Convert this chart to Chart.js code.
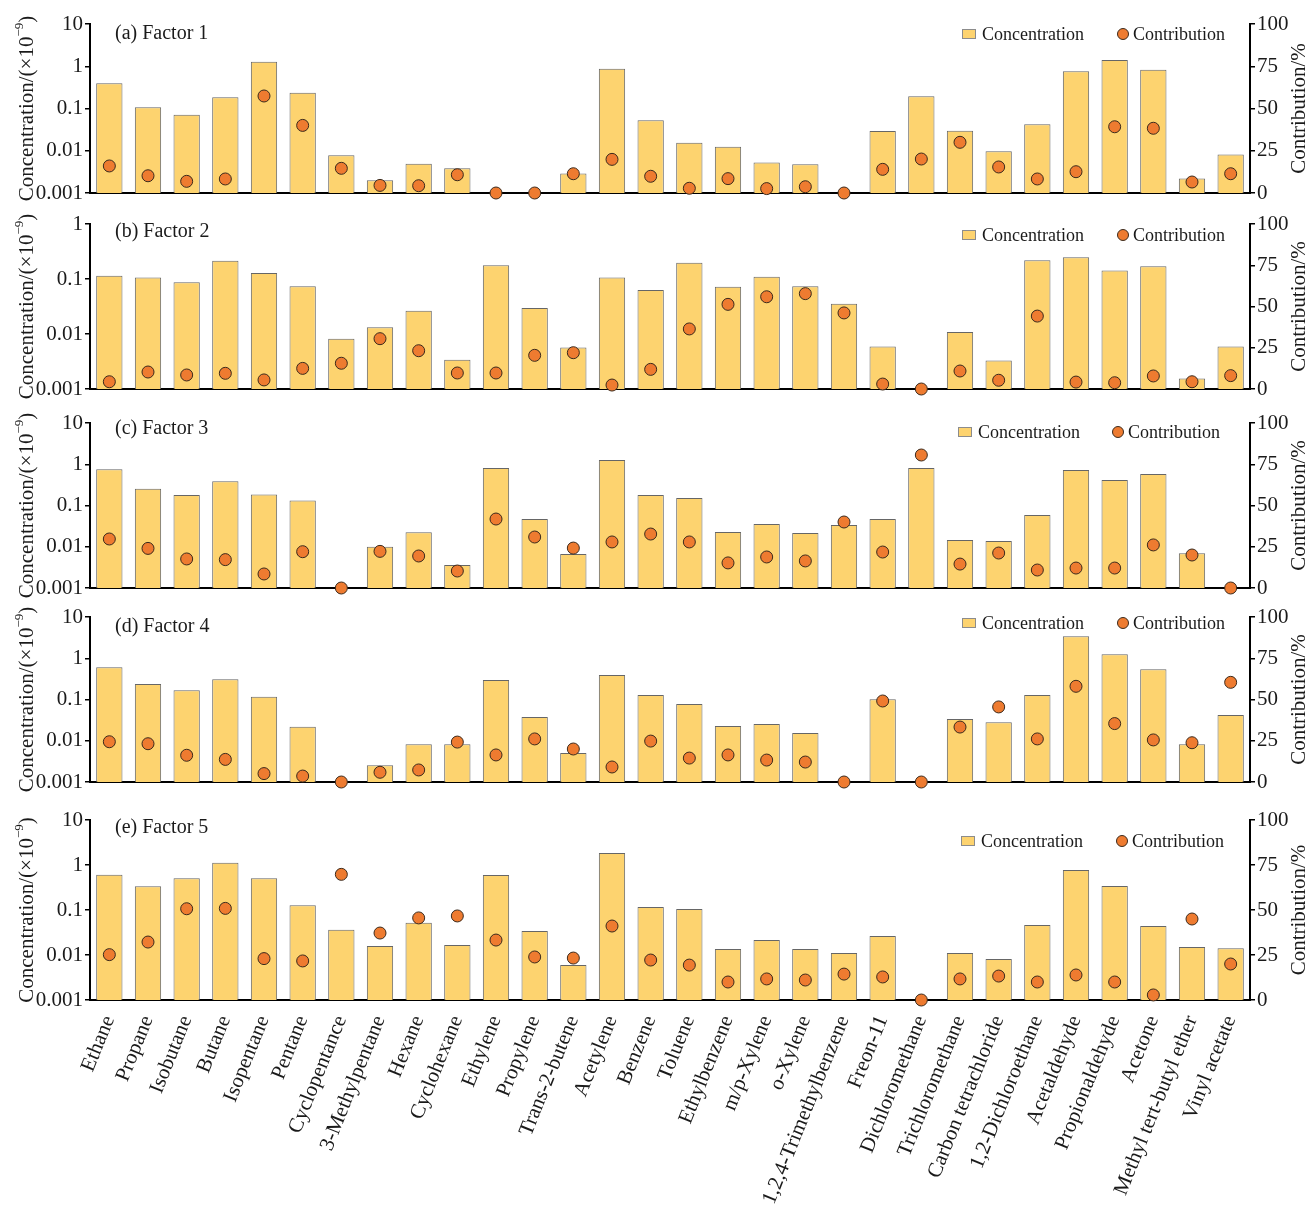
<!DOCTYPE html>
<html>
<head>
<meta charset="utf-8">
<script src="https://cdn.jsdelivr.net/npm/chart.js@4.4.1/dist/chart.umd.min.js"></script>
<style>
  html, body { margin: 0; padding: 0; background: #fff; }
  #wrap { position: relative; width: 1308px; height: 1215px; overflow: hidden; background: #fff; }
  .panel { position: absolute; left: 0; width: 1308px; }
  canvas { display: block; }
</style>
</head>
<body>
<div id="wrap"></div>
<script>
// VOC species on the shared category axis
const species = ['Ethane', 'Propane', 'Isobutane', 'Butane', 'Isopentane', 'Pentane', 'Cyclopentance',
  '3-Methylpentane', 'Hexane', 'Cyclohexane', 'Ethylene', 'Propylene', 'Trans-2-butene', 'Acetylene',
  'Benzene', 'Toluene', 'Ethylbenzene', 'm/p-Xylene', 'o-Xylene', '1,2,4-Trimethylbenzene', 'Freon-11',
  'Dichloromethane', 'Trichloromethane', 'Carbon tetrachloride', '1,2-Dichloroethane', 'Acetaldehyde',
  'Propionaldehyde', 'Acetone', 'Methyl tert-butyl ether', 'Vinyl acetate'];

// Factor profiles: concentration (×10^-9, log axis) and contribution (%)
const concF1 = [0.394, 0.107, 0.0715, 0.184, 1.28, 0.237, 0.0078, 0.0020, 0.0049, 0.00385, null, null, 0.0029, 0.875,
  0.0525, 0.0155, 0.0125, 0.0053, 0.0048, null, 0.0293, 0.194, 0.0299, 0.0097, 0.0422, 0.76, 1.41, 0.83, 0.0022, 0.0081];
const contF1 = [16.0, 10.2, 6.9, 8.3, 57.4, 40.0, 14.6, 4.5, 4.3, 10.8, 0, 0, 11.4, 19.9, 9.9, 2.8, 8.5, 2.6, 3.7, 0,
  14.0, 20.1, 30.0, 15.4, 8.3, 12.6, 39.2, 38.3, 6.5, 11.4];

const concF2 = [0.115, 0.107, 0.0871, 0.215, 0.129, 0.0736, 0.0082, 0.0132, 0.0265, 0.0034, 0.177, 0.0297, 0.0057, 0.107,
  0.063, 0.198, 0.0725, 0.110, 0.0736, 0.0356, 0.0059, null, 0.0109, 0.0033, 0.219, 0.248, 0.142, 0.170, 0.00156, 0.0059];
const contF2 = [4.4, 10.3, 8.5, 9.5, 5.5, 12.5, 15.6, 30.5, 23.2, 9.7, 9.7, 20.4, 22.0, 2.4, 11.9, 36.4, 51.3, 55.9, 57.8,
  46.1, 3.0, 0, 10.9, 5.3, 44.2, 4.2, 3.8, 7.9, 4.4, 8.1];

const concF3 = [0.754, 0.256, 0.18, 0.385, 0.186, 0.133, null, 0.0100, 0.0224, 0.0036, 0.81, 0.047, 0.0067, 1.27,
  0.18, 0.152, 0.0228, 0.0356, 0.0215, 0.0337, 0.047, 0.81, 0.0146, 0.0138, 0.059, 0.725, 0.415, 0.58, 0.0070, null];
const contF3 = [29.7, 24.0, 17.6, 17.2, 8.5, 22.0, 0, 22.2, 19.4, 10.3, 41.8, 30.9, 24.2, 27.9, 32.7, 27.9, 15.2, 18.8,
  16.4, 40.0, 21.8, 80.6, 14.5, 21.2, 10.9, 12.1, 12.1, 26.1, 20.0, 0];

const concF4 = [0.603, 0.238, 0.167, 0.308, 0.117, 0.0219, null, 0.00254, 0.0082, 0.0082, 0.297, 0.0377, 0.00505, 0.393,
  0.129, 0.078, 0.0228, 0.0255, 0.0154, null, 0.101, null, 0.0337, 0.028, 0.129, 3.40, 1.245, 0.538, 0.0082, 0.042];
const contF4 = [24.4, 23.2, 16.2, 13.7, 5.1, 3.6, 0, 5.9, 7.3, 24.2, 16.4, 26.1, 20.0, 9.1, 24.8, 14.5, 16.4, 13.3, 12.1,
  0, 49.1, 0, 33.3, 45.5, 26.1, 58.0, 35.4, 25.5, 23.8, 60.4];

const concF5 = [0.61, 0.336, 0.506, 1.127, 0.506, 0.127, 0.0365, 0.0158, 0.0523, 0.0167, 0.6, 0.0342, 0.006, 1.85,
  0.117, 0.105, 0.0136, 0.0215, 0.0136, 0.0111, 0.0264, null, 0.0111, 0.0081, 0.0464, 0.774, 0.341, 0.044, 0.0151, 0.0142];
const contF5 = [25.2, 32.2, 50.7, 50.9, 23.0, 21.7, 69.8, 37.2, 45.6, 46.7, 33.3, 23.9, 23.3, 41.1, 22.2, 19.4, 10.0, 11.7,
  11.1, 14.4, 12.8, 0, 11.7, 13.3, 10.0, 13.9, 10.0, 2.8, 45.0, 20.0];

// Axis tick values and their labels
const logTicks = [0.001, 0.01, 0.1, 1, 10];
const logTickLabels = ['0.001', '0.01', '0.1', '1', '10'];
const pctTicks = [0, 25, 50, 75, 100];

const panelTitles = ['(a) Factor 1', '(b) Factor 2', '(c) Factor 3', '(d) Factor 4', '(e) Factor 5'];
const concSeries = [concF1, concF2, concF3, concF4, concF5];
const contSeries = [contF1, contF2, contF3, contF4, contF5];

// Styling
const FONT = '"Liberation Serif", "Times New Roman", serif';
const TEXT = '#1a1a1a';
const BAR_FILL = '#FDD36F';
const BAR_EDGE = '#666666';
const PT_FILL = '#EE7B30';
const PT_EDGE = '#3b2a1c';
const AREA_LEFT = 90, AREA_RIGHT = 1250, PAGE_W = 1308;

// Page layout of each stacked panel (canvas box and plot area, in page pixels)
const layout = [
  { top: 0,   height: 215, areaTop: 24,  areaBottom: 193,  logMax: 10, titleY: 34,  legY: 34,  swX: 962, ptX: 1123 },
  { top: 195, height: 215, areaTop: 224, areaBottom: 389,  logMax: 1,  titleY: 232, legY: 235, swX: 962, ptX: 1123 },
  { top: 395, height: 215, areaTop: 423, areaBottom: 588,  logMax: 10, titleY: 429, legY: 432, swX: 958, ptX: 1118 },
  { top: 595, height: 205, areaTop: 617, areaBottom: 782,  logMax: 10, titleY: 627, legY: 623, swX: 962, ptX: 1123 },
  { top: 790, height: 425, areaTop: 820, areaBottom: 1000, logMax: 10, titleY: 828, legY: 841, swX: 961, ptX: 1122 }
];

// Panel title, legend and the two vertical axis titles
const decor = {
  id: 'decor',
  afterDraw(chart, args, o) {
    const ctx = chart.ctx;
    const a = chart.chartArea;
    const off = o.top;
    ctx.save();
    ctx.textBaseline = 'middle';
    ctx.textAlign = 'left';
    ctx.fillStyle = TEXT;
    ctx.font = '20px ' + FONT;
    ctx.fillText(o.title, 115, o.titleY - off);

    // legend
    const ly = o.legY - off;
    ctx.fillStyle = BAR_FILL;
    ctx.fillRect(o.swX, ly - 5, 14, 10);
    ctx.strokeStyle = '#8c8c8c';
    ctx.lineWidth = 1;
    ctx.strokeRect(o.swX + 0.5, ly - 4.5, 13, 9);
    ctx.fillStyle = TEXT;
    ctx.font = '18px ' + FONT;
    ctx.fillText('Concentration', o.swX + 20, ly + 1);
    ctx.beginPath();
    ctx.arc(o.ptX, ly, 5.5, 0, Math.PI * 2);
    ctx.fillStyle = PT_FILL;
    ctx.fill();
    ctx.strokeStyle = PT_EDGE;
    ctx.stroke();
    ctx.fillStyle = TEXT;
    ctx.fillText('Contribution', o.ptX + 10, ly + 1);

    const midY = (a.top + a.bottom) / 2;
    // left title with superscript exponent
    ctx.save();
    ctx.translate(27, midY);
    ctx.rotate(-Math.PI / 2);
    const big = '21px ' + FONT, small = '13px ' + FONT;
    const t1 = 'Concentration/(×10', t2 = '−9', t3 = ')';
    ctx.font = big; const w1 = ctx.measureText(t1).width; const w3 = ctx.measureText(t3).width;
    ctx.font = small; const w2 = ctx.measureText(t2).width;
    let x = -(w1 + w2 + w3) / 2;
    ctx.font = big; ctx.fillText(t1, x, 0); x += w1;
    ctx.font = small; ctx.fillText(t2, x, -7); x += w2;
    ctx.font = big; ctx.fillText(t3, x, 0);
    ctx.restore();

    // right title
    ctx.save();
    ctx.translate(1299, midY);
    ctx.rotate(-Math.PI / 2);
    ctx.textAlign = 'center';
    ctx.font = '21px ' + FONT;
    ctx.fillText('Contribution/%', 0, 0);
    ctx.restore();

    ctx.restore();
  }
};

const wrap = document.getElementById('wrap');

layout.forEach((p, i) => {
  const isLast = i === layout.length - 1;
  const box = document.createElement('div');
  box.className = 'panel';
  box.style.top = p.top + 'px';
  box.style.height = p.height + 'px';
  const cv = document.createElement('canvas');
  cv.width = PAGE_W;
  cv.height = p.height;
  box.appendChild(cv);
  wrap.appendChild(box);

  const yTickVals = logTicks.filter(v => v <= p.logMax);
  const yTickText = logTickLabels.slice(0, yTickVals.length);

  new Chart(cv, {
    data: {
      labels: species,
      datasets: [
        {
          type: 'bar', label: 'Concentration', data: concSeries[i], yAxisID: 'y',
          backgroundColor: BAR_FILL, borderColor: BAR_EDGE, borderWidth: 1,
          barPercentage: 0.68, categoryPercentage: 1, order: 2
        },
        {
          type: 'line', label: 'Contribution', data: contSeries[i], yAxisID: 'y2',
          showLine: false, pointRadius: 6, pointHoverRadius: 6,
          pointBackgroundColor: PT_FILL, pointBorderColor: PT_EDGE, pointBorderWidth: 1,
          clip: false, order: 1
        }
      ]
    },
    options: {
      responsive: false,
      animation: false,
      devicePixelRatio: 1,
      events: [],
      layout: { padding: { top: p.areaTop - p.top, left: 0, right: 0, bottom: 0 } },
      plugins: {
        legend: { display: false },
        tooltip: { enabled: false },
        decor: { top: p.top, title: panelTitles[i], titleY: p.titleY, legY: p.legY, swX: p.swX, ptX: p.ptX }
      },
      scales: {
        x: {
          type: 'category',
          grid: { display: false },
          border: { display: true, color: '#000', width: 2 },
          ticks: {
            display: isLast, autoSkip: false, maxRotation: 68, minRotation: 68,
            font: { family: FONT, size: 21 }, color: TEXT, padding: 4
          },
          afterFit(s) { s.height = p.top + p.height - p.areaBottom; s.paddingLeft = 0; s.paddingRight = 0; }
        },
        y: {
          type: 'logarithmic', position: 'left', min: 0.001, max: p.logMax,
          grid: { display: true, drawOnChartArea: false, drawTicks: true, tickLength: 5, color: '#000', lineWidth: 1.5 },
          border: { display: true, color: '#000', width: 2 },
          ticks: {
            font: { family: FONT, size: 21 }, color: TEXT, padding: 2,
            callback: (v, idx) => yTickText[idx]
          },
          afterBuildTicks(s) { s.ticks = yTickVals.map(v => ({ value: v })); },
          afterFit(s) { s.width = AREA_LEFT; s.paddingTop = 0; s.paddingBottom = 0; }
        },
        y2: {
          type: 'linear', position: 'right', min: 0, max: 100,
          grid: { display: true, drawOnChartArea: false, drawTicks: true, tickLength: 5, color: '#000', lineWidth: 1.5 },
          border: { display: true, color: '#000', width: 2 },
          ticks: { font: { family: FONT, size: 21 }, color: TEXT, padding: 2 },
          afterBuildTicks(s) { s.ticks = pctTicks.map(v => ({ value: v })); },
          afterFit(s) { s.width = PAGE_W - AREA_RIGHT; s.paddingTop = 0; s.paddingBottom = 0; }
        }
      }
    },
    plugins: [decor]
  });
});
</script>
</body>
</html>
